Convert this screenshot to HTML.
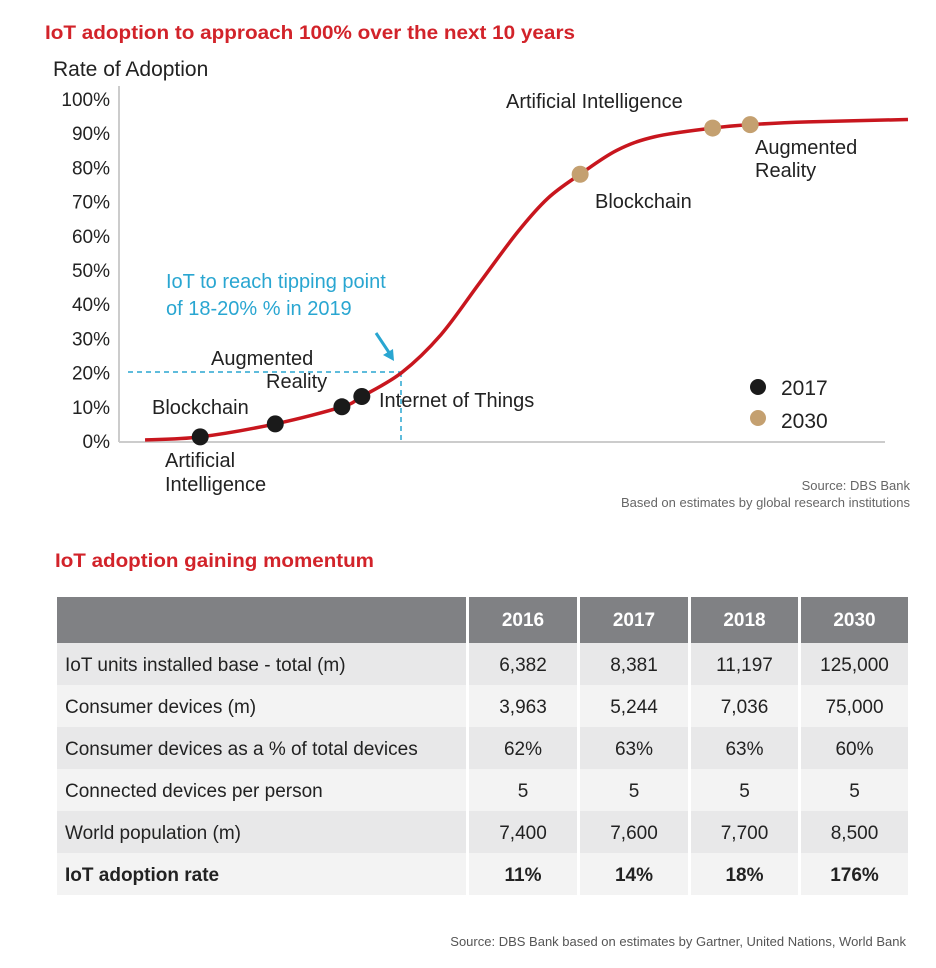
<!DOCTYPE html>
<html><head><meta charset="utf-8">
<style>
body{margin:0;background:#fff;width:936px;height:963px;overflow:hidden;font-family:"Liberation Sans",sans-serif;}
svg text{font-family:"Liberation Sans",sans-serif;}
</style></head>
<body>
<svg width="936" height="963" viewBox="0 0 936 963">
<text x="45" y="39" font-size="19" font-weight="bold" fill="#d2232a" textLength="530" lengthAdjust="spacingAndGlyphs">IoT adoption to approach 100% over the next 10 years</text>
<text x="53" y="76" font-size="21" fill="#222">Rate of Adoption</text>
<g id="yticks"></g>
<line x1="119" y1="86" x2="119" y2="442" stroke="#ccc" stroke-width="2"/>
<line x1="119" y1="442" x2="885" y2="442" stroke="#ccc" stroke-width="2"/>
<g id="annot">
<line x1="128" y1="372" x2="401" y2="372" stroke="#29a6d1" stroke-width="1.5" stroke-dasharray="5,4"/>
<line x1="401" y1="372" x2="401" y2="442" stroke="#29a6d1" stroke-width="1.5" stroke-dasharray="5,4"/>
<text x="166" y="288" font-size="20" fill="#29a6d1">IoT to reach tipping point</text>
<text x="166" y="315" font-size="20" fill="#29a6d1">of 18-20% % in 2019</text>
<line x1="376" y1="333" x2="390" y2="354" stroke="#29a6d1" stroke-width="3"/>
<polygon points="394,361 383,355 393,349" fill="#29a6d1"/>
</g>
<path id="curve" fill="none" stroke="#c8161e" stroke-width="3.5"/>
<g id="points"></g>
<g font-size="20" fill="#222">
<text x="165" y="467">Artificial</text>
<text x="165" y="491">Intelligence</text>
<text x="152" y="414">Blockchain</text>
<text x="211" y="365">Augmented</text>
<text x="266" y="388">Reality</text>
<text x="379" y="407">Internet of Things</text>
<text x="506" y="108">Artificial Intelligence</text>
<text x="595" y="208">Blockchain</text>
<text x="755" y="154">Augmented</text>
<text x="755" y="177">Reality</text>
</g>
<g>
<circle cx="758" cy="387" r="8" fill="#1a1a1a"/>
<text x="781" y="395" font-size="21" fill="#222">2017</text>
<circle cx="758" cy="418" r="8" fill="#c4a070"/>
<text x="781" y="428" font-size="21" fill="#222">2030</text>
</g>
<text x="910" y="490" font-size="13" fill="#666" text-anchor="end">Source: DBS Bank</text>
<text x="910" y="507" font-size="13" fill="#666" text-anchor="end">Based on estimates by global research institutions</text>

<text x="55" y="567" font-size="19" font-weight="bold" fill="#d2232a" textLength="319" lengthAdjust="spacingAndGlyphs">IoT adoption gaining momentum</text>
<g id="table"></g>
<text x="906" y="946" font-size="13" fill="#555" text-anchor="end">Source: DBS Bank based on estimates by Gartner, United Nations, World Bank</text>
</svg>
<script>
const yTicks=[0,10,20,30,40,50,60,70,80,90,100];
const curveX=[3.4,10.6,20.4,29.1,31.7,36.9,42,47,52,56,60.2,65,70,77.5,82.4,90,103];
const curveY=[0.3,1.2,5,10,13,20,31,46,61,71,78,85,89,91.5,92.5,93.3,94];
const pointNames=["ai-2017","blockchain-2017","ar-2017","iot-2017","blockchain-2030","ai-2030","ar-2030"];
const pointX=[10.6,20.4,29.1,31.7,60.2,77.5,82.4];
const pointY=[1.2,5,10,13,78,91.5,92.5];
const pointYear=[2017,2017,2017,2017,2030,2030,2030];
const tableHead=["","2016","2017","2018","2030"];
const tableRows=[
["IoT units installed base - total (m)","6,382","8,381","11,197","125,000"],
["Consumer devices (m)","3,963","5,244","7,036","75,000"],
["Consumer devices as a % of total devices","62%","63%","63%","60%"],
["Connected devices per person","5","5","5","5"],
["World population (m)","7,400","7,600","7,700","8,500"],
["IoT adoption rate","11%","14%","18%","176%"]];
const NS="http://www.w3.org/2000/svg";
const sx=v=>119+7.66*v, sy=v=>441-3.42*v;
function mk(t,a,p){const e=document.createElementNS(NS,t);for(const k in a)e.setAttribute(k,a[k]);p.appendChild(e);return e;}
const yg=document.getElementById('yticks');
yTicks.forEach(v=>{const t=mk('text',{x:110,y:sy(v)+7,'font-size':19,fill:'#222','text-anchor':'end'},yg);t.textContent=v+'%';

});
const P=curveX.map((x,i)=>[sx(x),sy(curveY[i])]);
let d='M'+P[0][0]+','+P[0][1];
for(let i=0;i<P.length-1;i++){const p0=P[i-1]||P[i],p1=P[i],p2=P[i+1],p3=P[i+2]||P[i+1];
d+=` C${p1[0]+(p2[0]-p0[0])/6},${p1[1]+(p2[1]-p0[1])/6} ${p2[0]-(p3[0]-p1[0])/6},${p2[1]-(p3[1]-p1[1])/6} ${p2[0]},${p2[1]}`;}
document.getElementById('curve').setAttribute('d',d);
const pg=document.getElementById('points');
pointX.forEach((x,i)=>{const c=mk('circle',{cx:sx(x),cy:sy(pointY[i]),r:8.5,fill:pointYear[i]===2017?'#1a1a1a':'#c4a070'},pg);

});
const tg=document.getElementById('table');
const colX=[57,469,580,691,801], colW=[409,108,108,107,107];
const tblTop=597, hh=46, rh=42;
tableHead.forEach((h,j)=>{const r=mk('rect',{x:colX[j],y:tblTop,width:colW[j],height:hh,fill:'#808184'},tg);


if(h){const t=mk('text',{x:colX[j]+colW[j]/2,y:tblTop+29,'font-size':19,'font-weight':'bold',fill:'#fff','text-anchor':'middle'},tg);t.textContent=h;

}});
tableRows.forEach((row,i)=>{const y=tblTop+hh+i*rh;const fill=i%2===0?'#e8e8e9':'#f3f3f3';
row.forEach((c,j)=>{const r=mk('rect',{x:colX[j],y:y,width:colW[j],height:rh,fill:fill},tg);


const t=mk('text',{x:j===0?65:colX[j]+colW[j]/2,y:y+28,'font-size':19,fill:'#222','text-anchor':j===0?'start':'middle','font-weight':i===5?'bold':'normal'},tg);
t.textContent=c;

});});
</script>
</body></html>
